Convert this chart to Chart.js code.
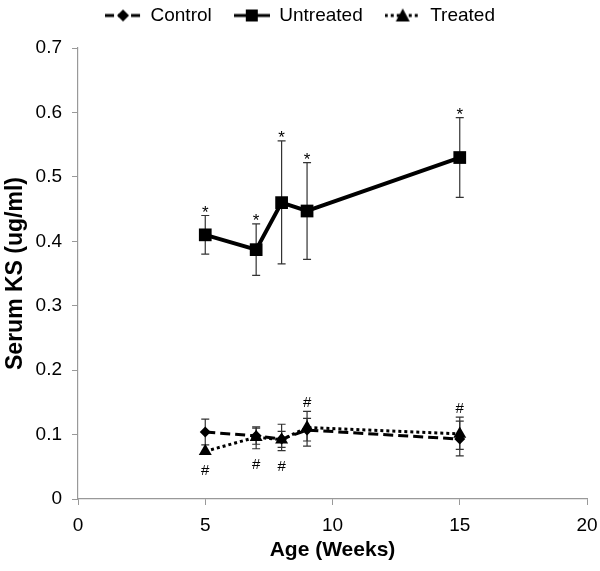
<!DOCTYPE html>
<html>
<head>
<meta charset="utf-8">
<script src="https://cdn.jsdelivr.net/npm/chart.js@4.4.0/dist/chart.umd.min.js"></script>
<style>
  html, body { margin: 0; padding: 0; background: #fff; }
  #wrap { width: 600px; height: 571px; }
</style>
</head>
<body>
<div id="wrap"><canvas id="myChart"></canvas></div>
<script>
// weeks
const ages = [5, 7, 8, 9, 15];

const control = [0.104, 0.098, 0.093, 0.107, 0.093];
const controlLow = [0.084, 0.085, 0.080, 0.090, 0.077];
const controlHigh = [0.124, 0.110, 0.105, 0.125, 0.121];

const untreated = [0.410, 0.387, 0.460, 0.447, 0.530];
const untreatedLow = [0.380, 0.347, 0.365, 0.372, 0.468];
const untreatedHigh = [0.440, 0.427, 0.556, 0.522, 0.592];

const treated = [0.074, 0.096, 0.092, 0.111, 0.101];
const treatedLow = [0.074, 0.078, 0.075, 0.082, 0.067];
const treatedHigh = [0.074, 0.112, 0.116, 0.136, 0.127];

// significance marks
const starMarks = ['*', '*', '*', '*', '*'];
const hashSide = ['below', 'below', 'below', 'above', 'above'];

const xTicks = [0, 5, 10, 15, 20];
const yTicks = [0, 0.1, 0.2, 0.3, 0.4, 0.5, 0.6, 0.7];

const FONT = "'Liberation Sans', Arial, Helvetica, sans-serif";

function toPoints(ys) {
    return ages.map((a, i) => ({x: a, y: ys[i]}));
}

// legend swatch: line + marker
function swatch(dash, style) {
    const c = document.createElement('canvas');
    c.width = 36; c.height = 16;
    const g = c.getContext('2d');
    g.strokeStyle = '#000';
    g.lineWidth = 3;
    g.setLineDash(dash);
    g.beginPath(); g.moveTo(0, 8); g.lineTo(36, 8); g.stroke();
    g.setLineDash([]);
    g.fillStyle = '#000';
    g.beginPath();
    if (style === 'diamond') {
        g.moveTo(18, 2); g.lineTo(24, 8); g.lineTo(18, 14); g.lineTo(12, 8);
    } else if (style === 'square') {
        g.rect(12, 2, 12, 12);
    } else {
        g.moveTo(18, 1); g.lineTo(25, 14); g.lineTo(11, 14);
    }
    g.closePath(); g.fill();
    return c;
}

const swatches = [
    swatch([9, 4], 'diamond'),
    swatch([], 'square'),
    swatch([3, 3], 'triangle')
];

const errorBars = {
    id: 'errorBars',
    beforeDatasetsDraw(chart) {
        const ctx = chart.ctx;
        const xs = chart.scales.x, ys = chart.scales.y;
        ctx.save();
        ctx.strokeStyle = '#333';
        ctx.lineWidth = 1.2;
        chart.data.datasets.forEach(ds => {
            ds.low.forEach((lo, i) => {
                const hi = ds.high[i];
                if (hi === lo) return;
                const px = xs.getPixelForValue(ages[i]);
                const p1 = ys.getPixelForValue(lo), p2 = ys.getPixelForValue(hi);
                ctx.beginPath();
                ctx.moveTo(px, p1); ctx.lineTo(px, p2);
                ctx.moveTo(px - 4, p1); ctx.lineTo(px + 4, p1);
                ctx.moveTo(px - 4, p2); ctx.lineTo(px + 4, p2);
                ctx.stroke();
            });
        });
        ctx.restore();
    },
    afterDatasetsDraw(chart) {
        const ctx = chart.ctx;
        const xs = chart.scales.x, ys = chart.scales.y;
        ctx.save();
        ctx.fillStyle = '#000';
        ctx.textAlign = 'center';
        ctx.font = '17px ' + FONT;
        starMarks.forEach((m, i) => {
            const px = xs.getPixelForValue(ages[i]);
            const py = ys.getPixelForValue(untreatedHigh[i]);
            ctx.textBaseline = 'alphabetic';
            ctx.fillText(m, px, py + 2);
        });
        ctx.font = '15px ' + FONT;
        hashSide.forEach((side, i) => {
            const px = xs.getPixelForValue(ages[i]);
            if (side === 'below') {
                const py = ys.getPixelForValue(Math.min(treatedLow[i], treated[i]));
                ctx.textBaseline = 'top';
                ctx.fillText('#', px, py + (treatedLow[i] === treated[i] ? 12 : 9));
            } else {
                const py = ys.getPixelForValue(treatedHigh[i]);
                ctx.textBaseline = 'alphabetic';
                ctx.fillText('#', px, py - 4);
            }
        });
        ctx.restore();
    }
};

const ctx = document.getElementById('myChart').getContext('2d');
new Chart(ctx, {
    type: 'line',
    data: {
        datasets: [{
            label: 'Control',
            data: toPoints(control),
            low: controlLow, high: controlHigh,
            borderColor: '#000', backgroundColor: '#000',
            borderWidth: 3, borderDash: [10, 5],
            pointStyle: 'rectRot', pointRadius: 5.5, pointBorderWidth: 0
        }, {
            label: 'Untreated',
            data: toPoints(untreated),
            low: untreatedLow, high: untreatedHigh,
            borderColor: '#000', backgroundColor: '#000',
            borderWidth: 4,
            pointStyle: 'rect', pointRadius: 9, pointBorderWidth: 0
        }, {
            label: 'Treated',
            data: toPoints(treated),
            low: treatedLow, high: treatedHigh,
            borderColor: '#000', backgroundColor: '#000',
            borderWidth: 3, borderDash: [3, 3],
            pointStyle: 'triangle', pointRadius: 7.5, pointBorderWidth: 0
        }]
    },
    options: {
        responsive: true,
        maintainAspectRatio: false,
        animation: false,
        layout: { padding: { left: 0, right: 0, top: -16, bottom: 6 } },
        plugins: {
            tooltip: { enabled: false },
            legend: {
                position: 'top',
                labels: {
                    usePointStyle: true,
                    pointStyleWidth: 36,
                    padding: 22,
                    color: '#000',
                    font: { family: FONT, size: 19 },
                    generateLabels(chart) {
                        return chart.data.datasets.map((ds, i) => ({
                            text: ds.label,
                            pointStyle: swatches[i],
                            fillStyle: '#000',
                            strokeStyle: '#000',
                            lineWidth: 0,
                            hidden: false,
                            datasetIndex: i
                        }));
                    }
                }
            }
        },
        scales: {
            x: {
                type: 'linear',
                min: 0, max: 20,
                afterBuildTicks: axis => { axis.ticks = xTicks.map(v => ({value: v})); },
                afterFit: axis => { axis.height -= 9; axis.paddingRight = 13; },
                grid: { drawOnChartArea: false, color: '#999', tickLength: 6 },
                border: { color: '#999', width: 1.2 },
                ticks: { color: '#000', font: { family: FONT, size: 19 }, padding: 9 },
                title: { display: true, text: 'Age (Weeks)', color: '#000',
                         font: { family: FONT, size: 21, weight: 'bold' }, padding: { top: 1, bottom: 2 } }
            },
            // empty spacer between legend and plot
            xTop: {
                type: 'linear',
                axis: 'x',
                position: 'top',
                min: 0, max: 20,
                grid: { display: false },
                border: { display: false },
                ticks: { display: false },
                afterFit: axis => { axis.height = 13; axis.paddingRight = 13; }
            },
            y: {
                min: 0, max: 0.7,
                afterBuildTicks: axis => { axis.ticks = yTicks.map(v => ({value: v})); },
                afterFit: axis => { axis.width -= 8; },
                grid: { drawOnChartArea: false, color: '#999', tickLength: 6 },
                border: { color: '#999', width: 1.2 },
                ticks: { color: '#000', font: { family: FONT, size: 19 }, padding: 10,
                         callback: v => String(+v.toFixed(1)) },
                title: { display: true, text: 'Serum KS (ug/ml)', color: '#000',
                         font: { family: FONT, size: 23, weight: 'bold' }, padding: { top: 2, bottom: 4 } }
            }
        }
    },
    plugins: [errorBars]
});
</script>
</body>
</html>
